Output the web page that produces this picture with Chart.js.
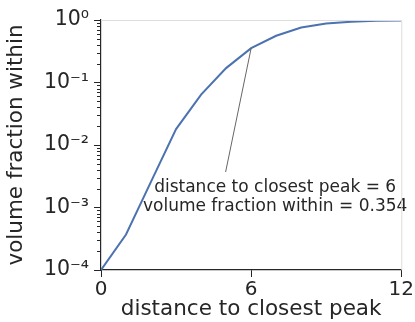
<!DOCTYPE html>
<html>
<head>
  <script src="https://cdn.jsdelivr.net/npm/chart.js"></script>
  <style>
    body { margin: 0; background: white; }
    #wrap { width: 415px; height: 322px; }
  </style>
</head>
<body>
  <div id="wrap"><canvas id="chart"></canvas></div>
  <script>
    // distance to closest peak vs. volume fraction within that distance
    const distances = [0, 1, 2, 3, 4, 5, 6, 7, 8, 9, 10, 11, 12];
    const volumeFraction = [1e-4, 3.7e-4, 2.6e-3, 0.018, 0.064, 0.17, 0.354, 0.56, 0.76, 0.88, 0.94, 0.97, 0.98];
    const xTicks = [0, 6, 12];
    const yTicks = [1e-4, 1e-3, 1e-2, 1e-1, 1];
    const noteLines = ['distance to closest peak = 6', 'volume fraction within = 0.354'];

    const ink = '#262626';
    const sup = { '0': '⁰', '1': '¹', '2': '²', '3': '³', '4': '⁴', '-': '⁻' };
    function pow10Label(v) {
      const e = String(Math.round(Math.log10(v)));
      return '10' + e.split('').map(c => sup[c]).join('');
    }

    // light frame on top/right, short minor ticks on the log axis
    const frame = {
      id: 'frame',
      afterDraw(chart) {
        const { ctx, chartArea: a, scales: { y } } = chart;
        ctx.save();
        ctx.strokeStyle = '#dddddd';
        ctx.lineWidth = 1;
        ctx.beginPath();
        ctx.moveTo(a.left, a.top + 0.5);
        ctx.lineTo(a.right + 0.5, a.top + 0.5);
        ctx.lineTo(a.right + 0.5, a.bottom);
        ctx.stroke();
        ctx.strokeStyle = ink;
        ctx.beginPath();
        for (let k = -4; k < 0; k++) {
          for (let m = 2; m < 10; m++) {
            const py = Math.round(y.getPixelForValue(m * Math.pow(10, k))) + 0.5;
            ctx.moveTo(a.left - 4, py);
            ctx.lineTo(a.left, py);
          }
        }
        ctx.stroke();
        ctx.restore();
      }
    };

    // annotation pointing at x = 6
    const note = {
      id: 'note',
      afterDatasetsDraw(chart) {
        const { ctx, scales: { x, y } } = chart;
        const px = x.getPixelForValue(6);
        const py = y.getPixelForValue(0.354);
        ctx.save();
        ctx.strokeStyle = '#666666';
        ctx.lineWidth = 1;
        ctx.beginPath();
        ctx.moveTo(px, py);
        ctx.lineTo(x.getPixelForValue(4.98), 172);
        ctx.stroke();
        ctx.font = '17px "DejaVu Sans"';
        ctx.fillStyle = ink;
        ctx.textAlign = 'center';
        ctx.textBaseline = 'alphabetic';
        const cx = x.getPixelForValue(6.96);
        ctx.fillText(noteLines[0], cx, 191.5);
        ctx.fillText(noteLines[1], cx, 211);
        ctx.restore();
      }
    };

    new Chart(document.getElementById('chart').getContext('2d'), {
      type: 'line',
      data: {
        datasets: [{
          data: distances.map((d, i) => ({ x: d, y: volumeFraction[i] })),
          borderColor: '#4c72b0',
          borderWidth: 2,
          pointRadius: 0,
          tension: 0,
          fill: false
        }]
      },
      options: {
        responsive: true,
        maintainAspectRatio: false,
        animation: false,
        layout: { padding: { top: 20, right: 13, left: 0, bottom: 0 } },
        plugins: { legend: { display: false }, tooltip: { enabled: false } },
        scales: {
          x: {
            type: 'linear',
            min: 0,
            max: 12,
            afterFit: s => { s.height = 52; },
            afterBuildTicks: s => { s.ticks = xTicks.map(v => ({ value: v })); },
            ticks: { color: ink, font: { family: 'DejaVu Sans', size: 20 }, padding: 1, autoSkip: false, maxRotation: 0 },
            grid: { drawOnChartArea: false, tickLength: 7, tickColor: ink, tickWidth: 1 },
            border: { color: ink, width: 1.2 },
            title: { display: true, text: 'distance to closest peak', color: ink, font: { family: 'DejaVu Sans', size: 21.5 }, padding: { top: 0, bottom: 0 } }
          },
          y: {
            type: 'logarithmic',
            min: 1e-4,
            max: 1,
            afterFit: s => { s.width = 101; },
            afterBuildTicks: s => { s.ticks = yTicks.map(v => ({ value: v })); },
            ticks: { color: ink, font: { family: 'DejaVu Sans', size: 20.5 }, padding: 5, autoSkip: false, callback: v => pow10Label(v) },
            grid: { drawOnChartArea: false, tickLength: 7, tickColor: ink, tickWidth: 1 },
            border: { color: ink, width: 1.2 },
            title: { display: true, text: 'volume fraction within', color: ink, font: { family: 'DejaVu Sans', size: 21.5 }, padding: { top: 4, bottom: 0 } }
          }
        }
      },
      plugins: [frame, note]
    });
  </script>
</body>
</html>
